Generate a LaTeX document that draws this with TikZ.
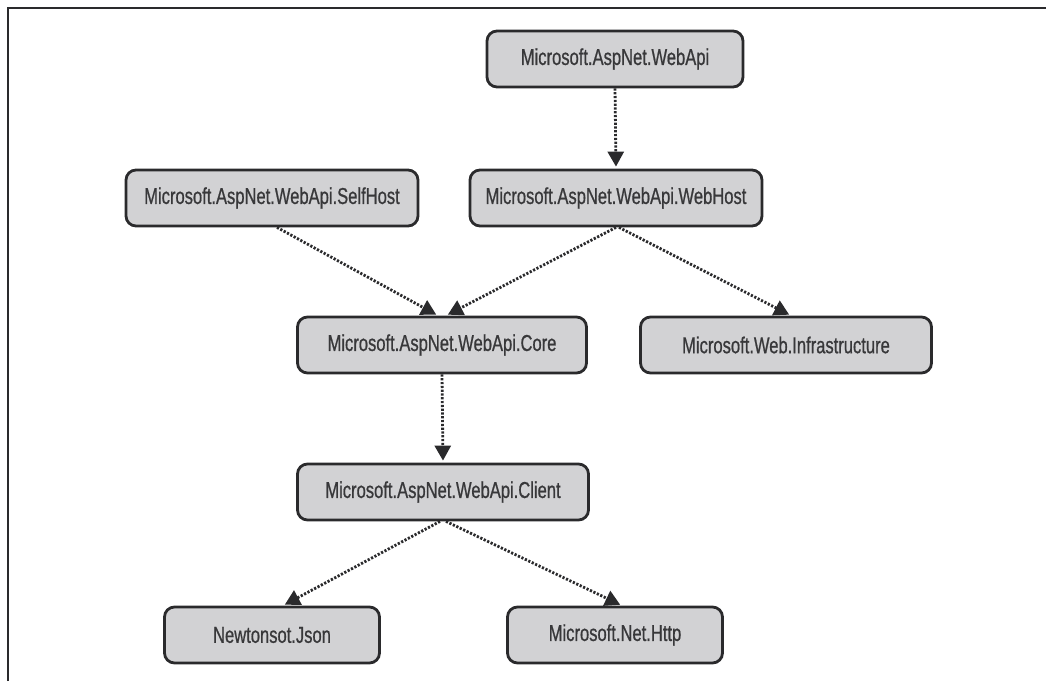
\documentclass[tikz,border=0pt]{standalone}
\usepackage{fontspec}
\setmainfont{Liberation Sans}[FakeStretch=0.72, FakeBold=0.7]
\usepackage{tikz}
\usetikzlibrary{arrows.meta}

\definecolor{boxfill}{HTML}{D2D2D4}
\definecolor{boxline}{HTML}{2A2A2C}
\definecolor{boxtext}{HTML}{38383A}

\tikzset{
  pkg/.style={draw=boxline, fill=boxfill, line width=2.8pt, rounded corners=10pt,
    minimum height=56pt, text=boxtext, font=\fontsize{23}{25}\selectfont, inner sep=0pt},
  dep/.style={line width=2.8pt, dash pattern=on 2.2pt off 1.6pt, boxline,
    -{Triangle[length=15pt,width=16pt]}, shorten >=2pt}
}

\begin{document}
\begin{tikzpicture}[x=1pt, y=-1pt]
\useasboundingbox (0,0) rectangle (1046,681);

% cornice
\draw[line width=2.6pt, boxline] (8,681) -- (8,8) -- (1046,8);

% pacchetti
\node[pkg, minimum width=256pt] (webapi) at (615,59) {Microsoft.AspNet.WebApi};
\node[pkg, minimum width=292pt] (selfhost) at (272,198) {Microsoft.AspNet.WebApi.SelfHost};
\node[pkg, minimum width=292pt] (webhost) at (616,198) {Microsoft.AspNet.WebApi.WebHost};
\node[pkg, minimum width=289pt] (core) at (442,345) {Microsoft.AspNet.WebApi.Core};
\node[pkg, minimum width=291pt] (infra) at (786,345) {Microsoft.Web.Infrastructure};
\node[pkg, minimum width=291pt] (client) at (443,492) {Microsoft.AspNet.WebApi.Client};
\node[pkg, minimum width=215pt] (newton) at (272,635) {Newtonsot.Json};
\node[pkg, minimum width=215pt] (nethttp) at (615,635) {Microsoft.Net.Http};

% dipendenze
\draw[dep] (webapi.south) -- (webhost.north);
\draw[dep] ([xshift=5pt]selfhost.south) -- ([xshift=-4pt]core.north);
\draw[dep] (webhost.south) -- ([xshift=4pt]core.north);
\draw[dep] ([xshift=3pt]webhost.south) -- ([xshift=5pt]infra.north);
\draw[dep] (core.south) -- (client.north);
\draw[dep] ([xshift=-3pt]client.south) -- ([xshift=11pt]newton.north);
\draw[dep] ([xshift=3pt]client.south) -- ([xshift=7pt]nethttp.north);
\end{tikzpicture}
\end{document}
